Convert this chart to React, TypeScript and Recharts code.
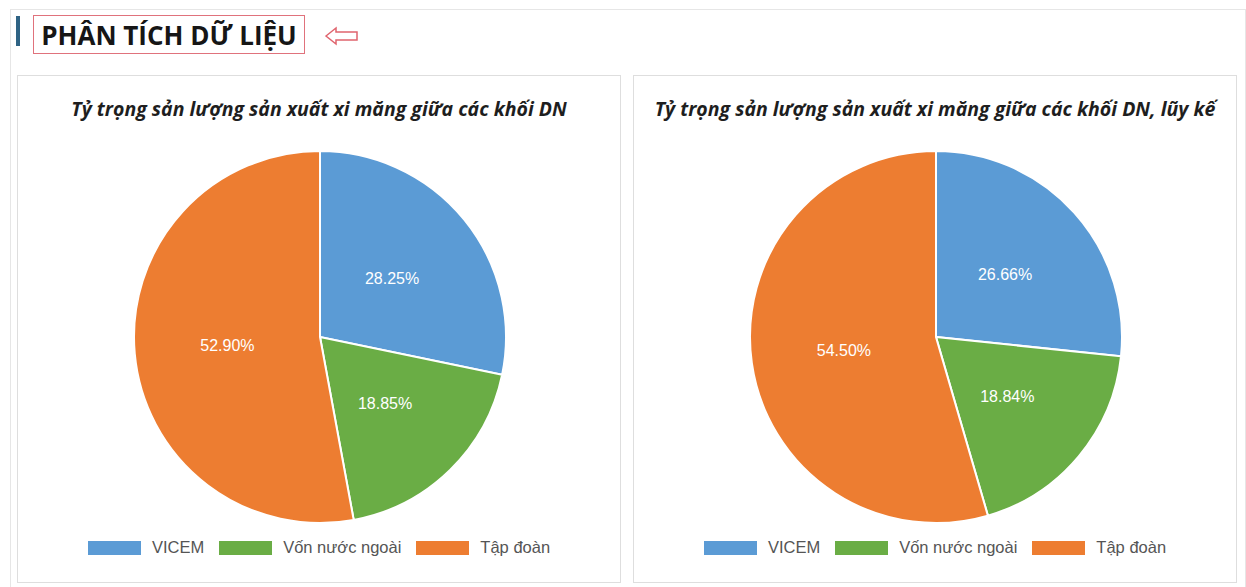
import { PieChart, Pie, Cell, Legend } from 'recharts';

const segments = ['VICEM', 'Vốn nước ngoài', 'Tập đoàn'];
const colors = ['#5b9bd5', '#6aad45', '#ed7d31'];
const periodShares = [28.25, 18.85, 52.9];
const cumulativeShares = [26.66, 18.84, 54.5];
const titles = [
  'Tỷ trọng sản lượng sản xuất xi măng giữa các khối DN',
  'Tỷ trọng sản lượng sản xuất xi măng giữa các khối DN, lũy kế',
];

const RAD = Math.PI / 180;

function renderLabel(props: any) {
  const { cx, cy, midAngle, outerRadius, value } = props;
  const r = outerRadius * 0.5;
  const x = cx + r * Math.cos(-midAngle * RAD);
  const y = cy + r * Math.sin(-midAngle * RAD);
  return (
    <text
      x={x}
      y={y}
      fill="#fff"
      fontSize={16}
      fontFamily="'Liberation Sans', Arial, sans-serif"
      textAnchor="middle"
      dominantBaseline="central"
    >
      {value.toFixed(2)}%
    </text>
  );
}

// legend keeps the series order (recharts sorts payload by name otherwise)
function LegendBox() {
  return (
    <div style={{ display: 'flex', justifyContent: 'center', fontFamily: "'Liberation Sans', Arial, sans-serif" }}>
      {segments.map((s, i) => (
        <div key={s} style={{ display: 'flex', alignItems: 'center', marginRight: i < segments.length - 1 ? 15 : 0 }}>
          <span style={{ display: 'inline-block', width: 53, height: 14, background: colors[i], marginRight: 11 }} />
          <span style={{ fontSize: 16.5, color: '#555' }}>{s}</span>
        </div>
      ))}
    </div>
  );
}

function SharePanel({ title, values, left }: { title: string; values: number[]; left: number }) {
  const data = segments.map((name, i) => ({ name, value: values[i] }));
  return (
    <div
      style={{
        position: 'absolute',
        left,
        top: 75,
        width: 604,
        height: 508,
        border: '1px solid #dedede',
        background: '#fff',
        boxSizing: 'border-box',
      }}
    >
      <div
        style={{
          position: 'absolute',
          top: 19,
          left: 0,
          width: 602,
          textAlign: 'center',
          fontFamily: "'Open Sans', sans-serif",
          fontWeight: 700,
          fontStyle: 'italic',
          fontSize: 19.5,
          color: '#1e1e1e',
          whiteSpace: 'nowrap',
        }}
      >
        {title}
      </div>
      <div style={{ position: 'absolute', left: 0, top: 0 }}>
        <PieChart width={602} height={506} margin={{ top: 0, right: 0, bottom: 0, left: 0 }}>
          <Pie
            data={data}
            dataKey="value"
            nameKey="name"
            cx={302}
            cy={261}
            outerRadius={186}
            startAngle={90}
            endAngle={-270}
            stroke="#fff"
            strokeWidth={2}
            label={renderLabel}
            labelLine={false}
            isAnimationActive={false}
          >
            {data.map((d, i) => (
              <Cell key={d.name} fill={colors[i]} />
            ))}
          </Pie>
          <Legend verticalAlign="bottom" content={<LegendBox />} wrapperStyle={{ bottom: 25 }} />
        </PieChart>
      </div>
    </div>
  );
}

export default function App() {
  return (
    <div style={{ position: 'absolute', left: 0, top: 0, width: 1246, height: 587, background: '#fff', overflow: 'hidden' }}>
      <div
        style={{
          position: 'absolute',
          left: 10,
          top: 9,
          width: 1236,
          height: 600,
          border: '1px solid #e6e6e6',
          boxSizing: 'border-box',
        }}
      />
      <div style={{ position: 'absolute', left: 16, top: 16, width: 4, height: 30, background: '#2f6384' }} />
      <div
        style={{
          position: 'absolute',
          left: 33,
          top: 15,
          width: 272,
          height: 39,
          border: '1.5px solid #e0727c',
          boxSizing: 'border-box',
          display: 'flex',
          alignItems: 'center',
          justifyContent: 'center',
          fontFamily: "'Open Sans', sans-serif",
          fontWeight: 700,
          fontSize: 26,
          color: '#161616',
          whiteSpace: 'nowrap',
        }}
      >
        PHÂN TÍCH DỮ LIỆU
      </div>
      <svg style={{ position: 'absolute', left: 322, top: 24 }} width={40} height={24}>
        <path d="M4 12 L14 4 L14 8 L35 8 L35 16 L14 16 L14 20 Z" fill="none" stroke="#e0646e" strokeWidth={1.5} />
      </svg>
      {titles.map((t, i) => (
        <SharePanel key={t} title={t} values={i === 0 ? periodShares : cumulativeShares} left={i === 0 ? 17 : 633} />
      ))}
    </div>
  );
}
